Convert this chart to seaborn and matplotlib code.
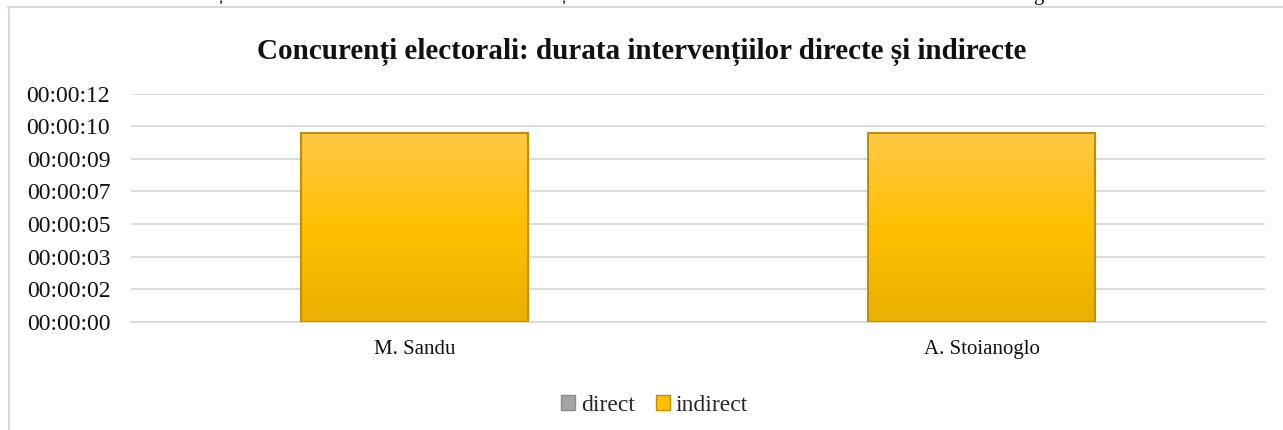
import numpy as np
import pandas as pd
import matplotlib

matplotlib.use("Agg")
import matplotlib.pyplot as plt
import matplotlib.ticker as mtick
from matplotlib.lines import Line2D
from matplotlib.patches import Patch
from matplotlib.colors import LinearSegmentedColormap
import seaborn as sns

# data (durations in seconds)
candidates = ["M. Sandu", "A. Stoianoglo"]
direct_sec = [0, 0]
indirect_sec = [10, 10]
series = ["direct", "indirect"]
series_colors = {"direct": "#a5a5a5", "indirect": "#ffc000"}

# Excel time axis: major unit 0.00002 days
MAJOR_UNIT = 0.00002 * 86400
N_TICKS = 8

TITLE = "Concurenți electorali: durata intervențiilor directe și indirecte"

sns.set_theme(style="white")
plt.rcParams["font.family"] = ["Liberation Serif", "DejaVu Serif"]


def fmt_hms(v, pos=None):
    s = int(round(v))
    return f"{s // 3600:02d}:{(s % 3600) // 60:02d}:{s % 60:02d}"


def main():
    df = pd.DataFrame(
        {
            "candidate": candidates * 2,
            "series": ["direct"] * len(candidates) + ["indirect"] * len(candidates),
            "seconds": direct_sec + indirect_sec,
        }
    )

    fig = plt.figure(figsize=(12.83, 4.30), dpi=100)
    ax = fig.add_axes([131 / 1283, 108 / 430, 1134 / 1283, 228.5 / 430])

    sns.barplot(
        data=df,
        x="candidate",
        y="seconds",
        hue="series",
        hue_order=series,
        palette=series_colors,
        dodge=False,
        width=0.4,
        linewidth=1.5,
        edgecolor="#c09000",
        ax=ax,
        legend=False,
        zorder=3,
    )

    # gradient fill on the indirect bars, like Excel's preset
    grad = LinearSegmentedColormap.from_list(
        "gold", ["#e8b000", "#ffc000", "#ffc847"]
    )
    ylim = (0, MAJOR_UNIT * (N_TICKS - 1))
    ax.set_ylim(ylim)
    ax.set_xlim(-0.5, len(candidates) - 0.5)
    for cont, name in zip(ax.containers, series):
        for bar in cont:
            if name == "direct":
                bar.set_linewidth(0)
                continue
            x0, y0 = bar.get_x(), bar.get_y()
            w, h = bar.get_width(), bar.get_height()
            img = ax.imshow(
                np.linspace(0, 1, 256).reshape(-1, 1),
                cmap=grad,
                origin="lower",
                extent=[x0, x0 + w, y0, y0 + h],
                aspect="auto",
                zorder=2.5,
            )
            img.set_clip_path(bar)
            bar.set_facecolor("none")
    ax.set_xlim(-0.5, len(candidates) - 0.5)
    ax.set_ylim(ylim)

    ax.set_yticks([MAJOR_UNIT * i for i in range(N_TICKS)])
    ax.yaxis.set_major_formatter(mtick.FuncFormatter(fmt_hms))
    ax.grid(axis="y", color="#d9d9d9", linewidth=1.3, zorder=0)
    ax.set_axisbelow(True)
    for side in ["top", "right", "left"]:
        ax.spines[side].set_visible(False)
    ax.spines["bottom"].set_color("#d9d9d9")
    ax.spines["bottom"].set_linewidth(1.3)
    ax.tick_params(axis="y", length=0, pad=15, labelsize=17, labelcolor="#111111")
    ax.tick_params(axis="x", length=0, pad=13, labelsize=15, labelcolor="#111111")
    ax.set_xlabel("")
    ax.set_ylabel("")

    fig.text(
        0.500,
        0.878,
        TITLE,
        ha="center",
        va="center",
        fontsize=21,
        fontweight="bold",
        color="#111111",
    )

    handles = [
        Patch(facecolor=series_colors[s], edgecolor="#8a8a8a" if s == "direct" else "#c09000")
        for s in series
    ]
    fig.legend(
        handles,
        series,
        loc="center",
        bbox_to_anchor=(0.51, 0.057),
        ncol=2,
        frameon=False,
        fontsize=17,
        handlelength=0.6,
        handleheight=0.6,
        handletextpad=0.25,
        columnspacing=0.9,
    )

    # chart area border (clipped by the page)
    fig.add_artist(Line2D([8.5 / 1283, 8.5 / 1283], [0, 1 - 7 / 430],
                          transform=fig.transFigure, color="#d9d9d9", linewidth=1.5))
    fig.add_artist(Line2D([8 / 1283, 1], [1 - 7 / 430, 1 - 7 / 430],
                          transform=fig.transFigure, color="#d9d9d9", linewidth=1.5))

    # descenders of the document line above the chart
    for ch, xpx in [("ș", 216), ("ș", 559), ("g", 1033)]:
        fig.text(xpx / 1283, 1 + 0.5 / 430, ch, ha="left", va="baseline",
                 fontsize=15, color="#111111")

    fig.savefig("out.png", dpi=100, facecolor="white")


if __name__ == "__main__":
    main()
